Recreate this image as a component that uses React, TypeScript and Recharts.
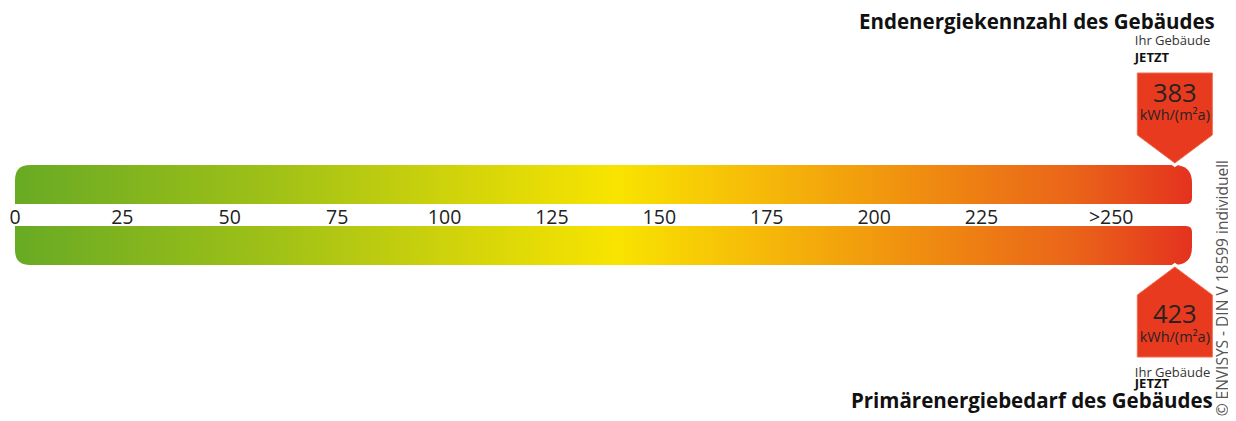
import React from 'react';
import { BarChart, Bar, XAxis, YAxis, ReferenceDot } from 'recharts';

// ---------- data ----------
const categories = ['Endenergiekennzahl', 'Primärenergiebedarf'];
const titles = ['Endenergiekennzahl des Gebäudes', 'Primärenergiebedarf des Gebäudes'];
const values = [383, 423];
const unit = 'kWh/(m²a)';
const tickValues = [0, 25, 50, 75, 100, 125, 150, 175, 200, 225, 250];
const tickLabels = ['0', '25', '50', '75', '100', '125', '150', '175', '200', '225', '>250'];
const scaleEnd = 274; // end of the coloured scale
const markerCap = 270; // values beyond the scale are pinned here
const gradientStops = [
  { offset: 0, color: '#68aa24' },
  { offset: 0.22, color: '#a0c117' },
  { offset: 0.38, color: '#d2d40a' },
  { offset: 0.51, color: '#f8e400' },
  { offset: 0.62, color: '#f6be08' },
  { offset: 0.76, color: '#f0900f' },
  { offset: 0.9, color: '#ea6419' },
  { offset: 1, color: '#e4321f' },
];

const FONT = "'Open Sans', 'Noto Sans', sans-serif";
const RED = '#e73a1f';
const W = 1236;
const MARGIN_L = 15;
const MARGIN_R = 44;

const topData = [{ name: categories[0], span: scaleEnd }];
const bottomData = [{ name: categories[1], span: scaleEnd }];

function roundedPath(x: number, y: number, w: number, h: number, tl: number, tr: number, br: number, bl: number) {
  return [
    `M${x + tl},${y}`,
    `L${x + w - tr},${y}`,
    `Q${x + w},${y} ${x + w},${y + tr}`,
    `L${x + w},${y + h - br}`,
    `Q${x + w},${y + h} ${x + w - br},${y + h}`,
    `L${x + bl},${y + h}`,
    `Q${x},${y + h} ${x},${y + h - bl}`,
    `L${x},${y + tl}`,
    `Q${x},${y} ${x + tl},${y}`,
    'Z',
  ].join(' ');
}

const TopBarShape = (p: any) => (
  <path d={roundedPath(p.x, p.y, p.width, p.height, 15, 18, 6, 0)} fill="url(#scaleGradTop)" />
);
const BottomBarShape = (p: any) => (
  <path d={roundedPath(p.x, p.y, p.width, p.height, 0, 6, 18, 15)} fill="url(#scaleGradBottom)" />
);

const Grad = ({ id }: { id: string }) => (
  <defs>
    <linearGradient id={id} x1="0" y1="0" x2="1" y2="0">
      {gradientStops.map((s) => (
        <stop key={s.offset} offset={s.offset} stopColor={s.color} />
      ))}
    </linearGradient>
  </defs>
);

const ScaleTick = (props: any) => {
  const { x, y, payload, index } = props;
  const last = index === tickValues.length - 1;
  return (
    <text
      x={x}
      y={y}
      dy={20}
      textAnchor={last ? 'start' : 'middle'}
      fontFamily={FONT}
      fontSize={19.5}
      fill="#222"
    >
      {tickLabels[tickValues.indexOf(payload.value)]}
    </text>
  );
};

const HALF_W = 37.5;

const TopMarker = (value: number, title: string) => (p: any) => {
  const { cx, cy } = p;
  const tip = cy - 21.5;
  const shoulder = tip - 28;
  const top = shoulder - 62;
  const d = `M${cx - HALF_W},${top} L${cx + HALF_W},${top} L${cx + HALF_W},${shoulder} L${cx},${tip} L${cx - HALF_W},${shoulder} Z`;
  return (
    <g>
      <path d={d} fill="#fff" stroke="#fff" strokeWidth={7} strokeLinejoin="miter" />
      <path d={d} fill={RED} stroke="#ef6a4e" strokeWidth={1} />
      <text x={cx} y={top + 29} textAnchor="middle" fontFamily={FONT} fontSize={25.5} fill="#2a2222">
        {value}
      </text>
      <text x={cx} y={top + 47} textAnchor="middle" fontFamily={FONT} fontSize={14.5} fill="#2a2222">
        {unit}
      </text>
      <text x={cx - 40} y={top - 28} fontFamily={FONT} fontSize={13} fill="#333">
        Ihr Gebäude
      </text>
      <text x={cx - 40} y={top - 11} fontFamily={FONT} fontSize={13} fontWeight="bold" fill="#111">
        JETZT
      </text>
      <text x={cx + 40} y={top - 44} textAnchor="end" fontFamily={FONT} fontSize={20.5} fontWeight="bold" fill="#111">
        {title}
      </text>
    </g>
  );
};

const BottomMarker = (value: number, title: string) => (p: any) => {
  const { cx, cy } = p;
  const tip = cy + 21.5;
  const shoulder = tip + 28;
  const bottom = shoulder + 62;
  const d = `M${cx},${tip} L${cx + HALF_W},${shoulder} L${cx + HALF_W},${bottom} L${cx - HALF_W},${bottom} L${cx - HALF_W},${shoulder} Z`;
  return (
    <g>
      <path d={d} fill="#fff" stroke="#fff" strokeWidth={7} strokeLinejoin="miter" />
      <path d={d} fill={RED} stroke="#ef6a4e" strokeWidth={1} />
      <text x={cx} y={shoulder + 28} textAnchor="middle" fontFamily={FONT} fontSize={25.5} fill="#2a2222">
        {value}
      </text>
      <text x={cx} y={shoulder + 47} textAnchor="middle" fontFamily={FONT} fontSize={14.5} fill="#2a2222">
        {unit}
      </text>
      <text x={cx - 40} y={bottom + 20} fontFamily={FONT} fontSize={13} fill="#333">
        Ihr Gebäude
      </text>
      <text x={cx - 40} y={bottom + 31} fontFamily={FONT} fontSize={13} fontWeight="bold" fill="#111">
        JETZT
      </text>
      <text x={cx + 38} y={bottom + 51} textAnchor="end" fontFamily={FONT} fontSize={20.5} fontWeight="bold" fill="#111">
        {title}
      </text>
    </g>
  );
};

export default function App() {
  return (
    <div style={{ position: 'relative', width: W, height: 421, margin: '-8px 0 0 -8px', background: '#fff', overflow: 'hidden' }}>
      <div style={{ position: 'absolute', left: 0, top: 0 }}>
        <BarChart
          width={W}
          height={240}
          data={topData}
          layout="vertical"
          margin={{ top: 165, right: MARGIN_R, bottom: 14, left: MARGIN_L }}
          barCategoryGap={0}
          style={{ overflow: 'visible' }}
        >
          <Grad id="scaleGradTop" />
          <XAxis
            type="number"
            domain={[0, scaleEnd]}
            ticks={tickValues}
            axisLine={false}
            tickLine={false}
            tickSize={0}
            tickMargin={0}
            height={22}
            interval={0}
            tick={<ScaleTick />}
          />
          <YAxis type="category" dataKey="name" hide />
          <Bar dataKey="span" shape={<TopBarShape />} isAnimationActive={false} />
          <ReferenceDot
            x={Math.min(values[0], markerCap)}
            y={categories[0]}
            r={1}
            ifOverflow="visible"
            shape={TopMarker(values[0], titles[0])}
          />
        </BarChart>
      </div>
      <div style={{ position: 'absolute', left: 0, top: 226 }}>
        <BarChart
          width={W}
          height={195}
          data={bottomData}
          layout="vertical"
          margin={{ top: 0, right: MARGIN_R, bottom: 156, left: MARGIN_L }}
          barCategoryGap={0}
          style={{ overflow: 'visible' }}
        >
          <Grad id="scaleGradBottom" />
          <XAxis type="number" domain={[0, scaleEnd]} hide />
          <YAxis type="category" dataKey="name" hide />
          <Bar dataKey="span" shape={<BottomBarShape />} isAnimationActive={false} />
          <ReferenceDot
            x={Math.min(values[1], markerCap)}
            y={categories[1]}
            r={1}
            ifOverflow="visible"
            shape={BottomMarker(values[1], titles[1])}
          />
        </BarChart>
      </div>
      <svg width={W} height={421} style={{ position: 'absolute', left: 0, top: 0, pointerEvents: 'none' }}>
        <text
          x={1228}
          y={160}
          transform="rotate(-90 1228 160)"
          textAnchor="end"
          fontFamily={FONT}
          fontSize={15.5}
          fill="#555"
        >
          © ENVISYS - DIN V 18599 individuell
        </text>
      </svg>
    </div>
  );
}
